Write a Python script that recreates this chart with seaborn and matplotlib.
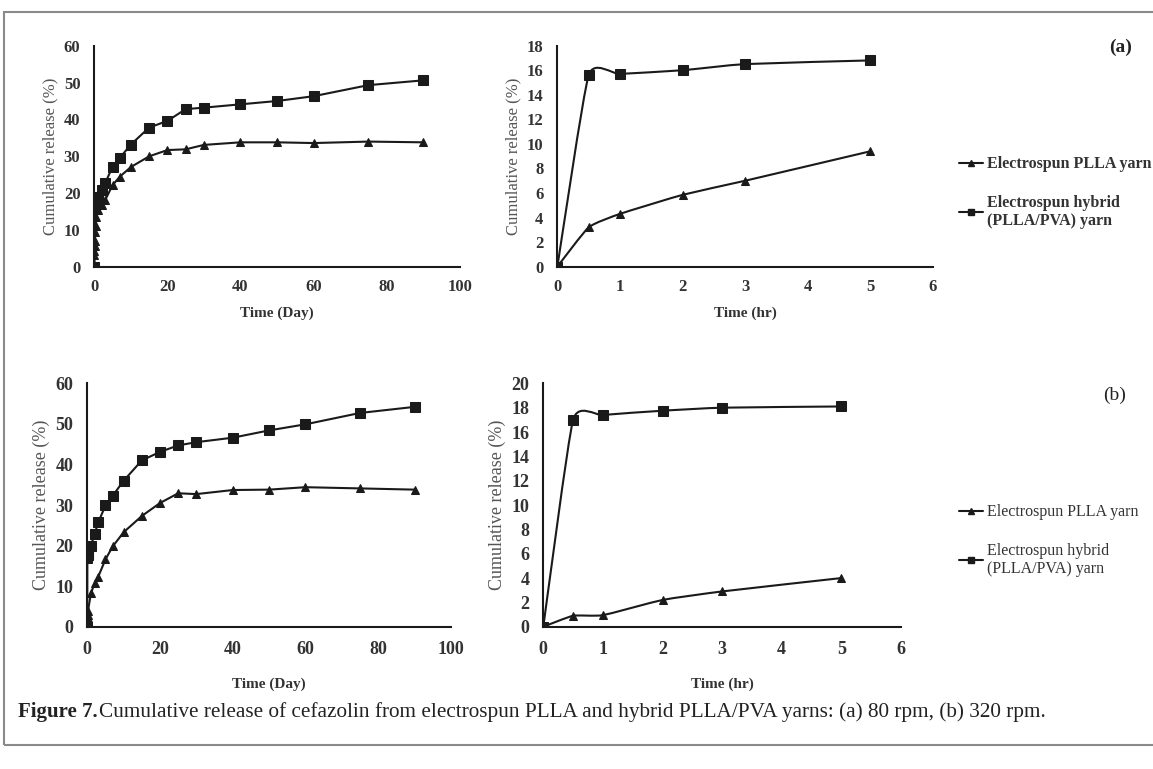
import matplotlib
matplotlib.use("Agg")
import matplotlib.pyplot as plt
import pandas as pd
import seaborn as sns
from matplotlib.lines import Line2D
from matplotlib.patches import Rectangle, PathPatch
from matplotlib.path import Path

# (a) 80 rpm, days
days_a_plla = [0, 0.02, 0.04, 0.083, 0.125, 0.21, 0.33, 0.5, 1, 2, 3, 5, 7, 10, 15, 20, 25, 30, 40, 50, 60, 75, 90]
rel_a_plla = [0, 3.2, 4.3, 5.8, 7.0, 9.4, 11.0, 13.5, 15.5, 16.8, 18.2, 22.2, 24.5, 27.1, 30.0, 31.7, 31.9, 33.1, 33.8, 33.8, 33.6, 34.0, 33.8]
days_a_hyb = [0, 0.02, 0.04, 0.083, 0.125, 0.21, 1, 2, 3, 5, 7, 10, 15, 20, 25, 30, 40, 50, 60, 75, 90]
rel_a_hyb = [0, 15.6, 15.7, 16.0, 16.5, 16.8, 19.0, 20.8, 22.8, 27.2, 29.6, 33.2, 37.8, 39.6, 42.8, 43.2, 44.1, 45.0, 46.3, 49.3, 50.6]

# (a) 80 rpm, hours
hours = [0, 0.5, 1, 2, 3, 5]
rel_a_plla_hr = [0, 3.2, 4.3, 5.85, 7.0, 9.4]
rel_a_hyb_hr = [0, 15.6, 15.7, 16.0, 16.5, 16.8]

# (b) 320 rpm, days
days_b = [0, 0.02, 0.04, 0.083, 0.125, 0.21, 1, 2, 3, 5, 7, 10, 15, 20, 25, 30, 40, 50, 60, 75, 90]
rel_b_plla = [0, 0.9, 0.95, 2.2, 2.9, 4.0, 8.2, 10.7, 12.3, 16.6, 19.8, 23.3, 27.3, 30.5, 32.9, 32.7, 33.7, 33.8, 34.4, 34.1, 33.8]
rel_b_hyb = [0, 17.0, 17.4, 17.75, 18.0, 18.1, 20.0, 22.8, 25.7, 29.9, 32.3, 36.0, 41.0, 43.1, 44.7, 45.5, 46.6, 48.4, 49.9, 52.7, 54.2]

# (b) 320 rpm, hours
rel_b_plla_hr = [0, 0.9, 0.95, 2.2, 2.9, 4.0]
rel_b_hyb_hr = [0, 17.0, 17.4, 17.75, 18.0, 18.1]

label_plla = "Electrospun PLLA yarn"
label_hyb = "Electrospun hybrid\n(PLLA/PVA) yarn"

INK = "#1a1a1a"

sns.set_style("white")
plt.rcParams["font.family"] = ["Liberation Serif", "DejaVu Serif"]

fig = plt.figure(figsize=(11.53, 7.69), dpi=100)

fig.patches.append(Rectangle((4 / 1153, 1 - 745 / 769), 1.2, (745 - 12) / 769,
                             transform=fig.transFigure, fill=False,
                             edgecolor="#8a8a8a", lw=1.5, zorder=0))


def smooth_line(ax, xs, ys, k=1 / 12):
    # Excel-like smoothed connector (Catmull-Rom style cubic Bezier)
    n = len(xs)
    verts = [(xs[0], ys[0])]
    codes = [Path.MOVETO]
    for i in range(n - 1):
        x0, y0 = (xs[i - 1], ys[i - 1]) if i > 0 else (xs[i], ys[i])
        x3, y3 = (xs[i + 2], ys[i + 2]) if i + 2 < n else (xs[i + 1], ys[i + 1])
        c1 = (xs[i] + (xs[i + 1] - x0) * k, ys[i] + (ys[i + 1] - y0) * k)
        c2 = (xs[i + 1] - (x3 - xs[i]) * k, ys[i + 1] - (y3 - ys[i]) * k)
        verts += [c1, c2, (xs[i + 1], ys[i + 1])]
        codes += [Path.CURVE4] * 3
    ax.add_patch(PathPatch(Path(verts, codes), fill=False, edgecolor=INK, lw=1.5, zorder=2))


def draw(ax, x1, y1, x2, y2, xlim, xticks, ylim, yticks, xlabel, fs, pad_x, lpad, smooth):
    d1 = pd.DataFrame({"x": x1, "y": y1})
    d2 = pd.DataFrame({"x": x2, "y": y2})
    ls = "none" if smooth else "-"
    sns.lineplot(data=d1, x="x", y="y", ax=ax, color=INK, lw=1.5, linestyle=ls,
                 marker="^", markersize=6, markeredgecolor=INK,
                 estimator=None, sort=False, zorder=3)
    sns.lineplot(data=d2, x="x", y="y", ax=ax, color=INK, lw=1.5, linestyle=ls,
                 marker="s", markersize=7, markeredgecolor=INK,
                 estimator=None, sort=False, zorder=3)
    if smooth:
        smooth_line(ax, x1, y1)
        smooth_line(ax, x2, y2)
    ax.set_xlim(*xlim)
    ax.set_ylim(*ylim)
    ax.set_xticks(xticks)
    ax.set_yticks(yticks)
    sns.despine(ax=ax)
    for s in ["left", "bottom"]:
        ax.spines[s].set_color(INK)
        ax.spines[s].set_linewidth(1.5)
    ax.tick_params(direction="out", length=5, width=1.3, color=INK,
                   labelsize=fs, labelcolor="#333333")
    ax.tick_params(axis="x", pad=pad_x)
    ax.tick_params(axis="y", pad=5)
    for t in ax.get_xticklabels() + ax.get_yticklabels():
        t.set_fontweight("bold")
    ax.set_xlabel(xlabel, fontsize=11, fontweight="bold", color="#333333", labelpad=lpad)
    ax.set_ylabel("Cumulative release (%)", fontsize=fs, color="#555555", labelpad=4)
    ax.set_facecolor("none")


ax1 = fig.add_axes([0.0818, 0.6528, 0.3169, 0.2878])
draw(ax1, days_a_plla, rel_a_plla, days_a_hyb, rel_a_hyb, (0, 100), range(0, 101, 20),
     (0, 60), range(0, 61, 10), "Time (Day)", 12, 4, 8, False)
ax2 = fig.add_axes([0.4834, 0.6532, 0.3258, 0.2874])
draw(ax2, hours, rel_a_plla_hr, hours, rel_a_hyb_hr, (0, 6), range(0, 7),
     (0, 18), range(0, 19, 2), "Time (hr)", 12, 4, 8, True)
ax3 = fig.add_axes([0.0757, 0.185, 0.3154, 0.3165])
draw(ax3, days_b, rel_b_plla, days_b, rel_b_hyb, (0, 100), range(0, 101, 20),
     (0, 60), range(0, 61, 10), "Time (Day)", 13, 5, 14, False)
ax4 = fig.add_axes([0.4712, 0.185, 0.3102, 0.3165])
draw(ax4, hours, rel_b_plla_hr, hours, rel_b_hyb_hr, (0, 6), range(0, 7),
     (0, 20), range(0, 21, 2), "Time (hr)", 13, 5, 14, True)

handles = [Line2D([], [], color=INK, lw=1.5, marker="^", markersize=5),
           Line2D([], [], color=INK, lw=1.5, marker="s", markersize=5)]
for yy, w in [(1 - 142 / 769, "bold"), (1 - 490 / 769, "normal")]:
    fig.legend(handles, [label_plla, label_hyb], loc="upper left",
               bbox_to_anchor=(945 / 1153, yy), frameon=False,
               handlelength=1.5, handletextpad=0.2, labelspacing=1.4,
               prop={"size": 11.5, "weight": w}, labelcolor="#333333")

fig.text(1121 / 1153, 1 - 47 / 769, "(a)", fontsize=14, fontweight="bold",
         ha="center", va="center", color="#222222")
fig.text(1115 / 1153, 1 - 395 / 769, "(b)", fontsize=14,
         ha="center", va="center", color="#222222")

fig.text(18 / 1153, 1 - 712 / 769, "Figure 7.", fontsize=15, fontweight="bold",
         ha="left", va="center", color="#222222")
fig.text(99 / 1153, 1 - 712 / 769,
         "Cumulative release of cefazolin from electrospun PLLA and hybrid PLLA/PVA yarns: (a) 80 rpm, (b) 320 rpm.",
         fontsize=15.3, ha="left", va="center", color="#222222")

fig.savefig("out.png", dpi=100)
